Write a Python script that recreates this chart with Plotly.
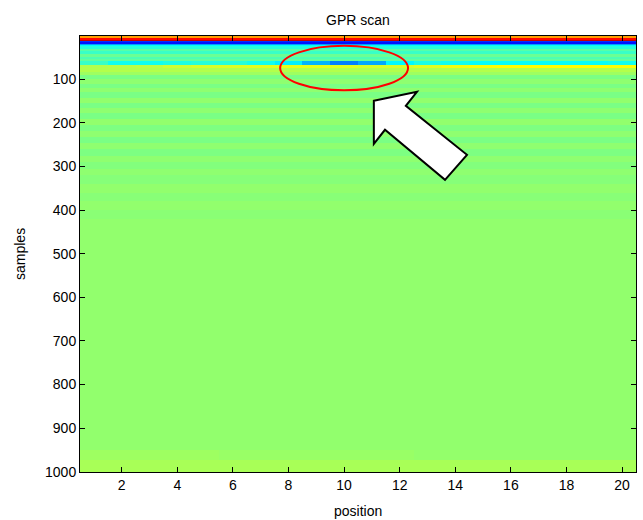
import plotly.graph_objects as go

# ---- data -------------------------------------------------------------
positions = list(range(1, 21))

# sample (depth) band boundaries and the amplitude of each band (0..1 colour index)
sample_edges = [0.5, 5, 10, 12, 15, 18, 20, 24, 30, 36, 42, 48, 54, 58, 66, 68, 75,
                82, 90, 100, 110, 120, 130, 142, 154, 166, 178, 190, 204, 218, 232,
                246, 260, 275, 290, 305, 320, 340, 360, 380, 400, 420, 950, 972, 1000.5]
band_values = [0.72, 0.87, 0.93, 0.17, 0.14, 0.28, 0.37, 0.41, 0.46, 0.43, 0.48, 0.45,
               0.47, 0.40, 0.47, 0.60, 0.55, 0.53, 0.495, 0.515, 0.495, 0.515, 0.495,
               0.518, 0.495, 0.515, 0.495, 0.518, 0.498, 0.515, 0.495, 0.515, 0.498,
               0.515, 0.502, 0.515, 0.506, 0.518, 0.508, 0.518, 0.51, 0.518, 0.525, 0.54]

# bands whose amplitude changes along the scan
streak_band = 13   # samples 58-66 : reflection of the buried target
streak_values = [0.43, 0.39, 0.39, 0.40, 0.41, 0.41, 0.39, 0.36, 0.30, 0.25,
                 0.29, 0.37, 0.40, 0.39, 0.38, 0.38, 0.38, 0.38, 0.38, 0.39]
yellow_band = 15   # samples 68-75
yellow_values = [0.55, 0.555, 0.56, 0.575, 0.585, 0.59, 0.595, 0.60, 0.60, 0.595,
                 0.585, 0.585, 0.595, 0.61, 0.62, 0.625, 0.625, 0.625, 0.625, 0.62]
bottom_band = 42   # samples 950-972
bottom_values = [0.53, 0.53, 0.53, 0.53, 0.53, 0.525, 0.525, 0.525, 0.525, 0.525,
                 0.525, 0.525, 0.52, 0.52, 0.52, 0.52, 0.52, 0.52, 0.52, 0.52]

x_ticks = [2, 4, 6, 8, 10, 12, 14, 16, 18, 20]
y_ticks = [100, 200, 300, 400, 500, 600, 700, 800, 900, 1000]

# annotation geometry (data coordinates)
ellipse = dict(x0=7.7, x1=12.3, y0=23, y1=125)
arrow_pts = [(11.07, 149), (12.62, 128.5), (12.22, 160.6), (14.42, 273),
             (13.63, 330.3), (11.47, 215.6), (11.07, 247.8)]

# ---- build matrix -----------------------------------------------------
special = {streak_band: streak_values, yellow_band: yellow_values,
           bottom_band: bottom_values}
z = []
for i, v in enumerate(band_values):
    if i in special:
        z.append(list(special[i]))
    else:
        z.append([v] * len(positions))

jet = [[0.0, "rgb(0,0,128)"], [0.125, "rgb(0,0,255)"], [0.375, "rgb(0,255,255)"],
       [0.625, "rgb(255,255,0)"], [0.875, "rgb(255,0,0)"], [1.0, "rgb(128,0,0)"]]

fig = go.Figure(go.Heatmap(x=positions, y=sample_edges, z=z, colorscale=jet,
                           zmin=0, zmax=1, showscale=False, zsmooth=False,
                           hoverinfo="skip"))

font = "Arial, Liberation Sans, sans-serif"
axis_common = dict(showline=True, linecolor="black", linewidth=1, mirror="ticks",
                   ticks="inside", ticklen=5, tickcolor="black", showgrid=False,
                   zeroline=False, tickfont=dict(family=font, size=14, color="black"))

fig.update_layout(
    width=643, height=520,
    margin=dict(l=80, r=7, t=36, b=48),
    paper_bgcolor="white", plot_bgcolor="white",
    title=dict(text="GPR scan", x=0.5, xref="paper", xanchor="center",
               y=1 - 20 / 520, yref="container", yanchor="middle",
               font=dict(family=font, size=14, color="black")),
    xaxis=dict(range=[0.5, 20.5], tickvals=x_ticks, **axis_common),
    yaxis=dict(range=[1000.5, 0.5], tickvals=y_ticks, **axis_common),
    showlegend=False,
)

fig.add_annotation(text="position", xref="paper", yref="paper", x=0.5,
                   y=-39 / 436, showarrow=False, xanchor="center", yanchor="middle",
                   font=dict(family=font, size=14, color="black"))
fig.add_annotation(text="samples", xref="paper", yref="paper", x=-60 / 556,
                   y=0.5, showarrow=False, textangle=-90, xanchor="center",
                   yanchor="middle", font=dict(family=font, size=14, color="black"))

fig.add_shape(type="circle", xref="x", yref="y", line=dict(color="red", width=2),
              layer="above", **ellipse)
path = "M " + " L ".join(f"{x},{y}" for x, y in arrow_pts) + " Z"
fig.add_shape(type="path", xref="x", yref="y", path=path, fillcolor="white",
              line=dict(color="black", width=2), layer="above")

fig.write_html("out.html", config={"displayModeBar": False},
               post_script="document.body.style.margin='0';document.body.style.padding='0';")
